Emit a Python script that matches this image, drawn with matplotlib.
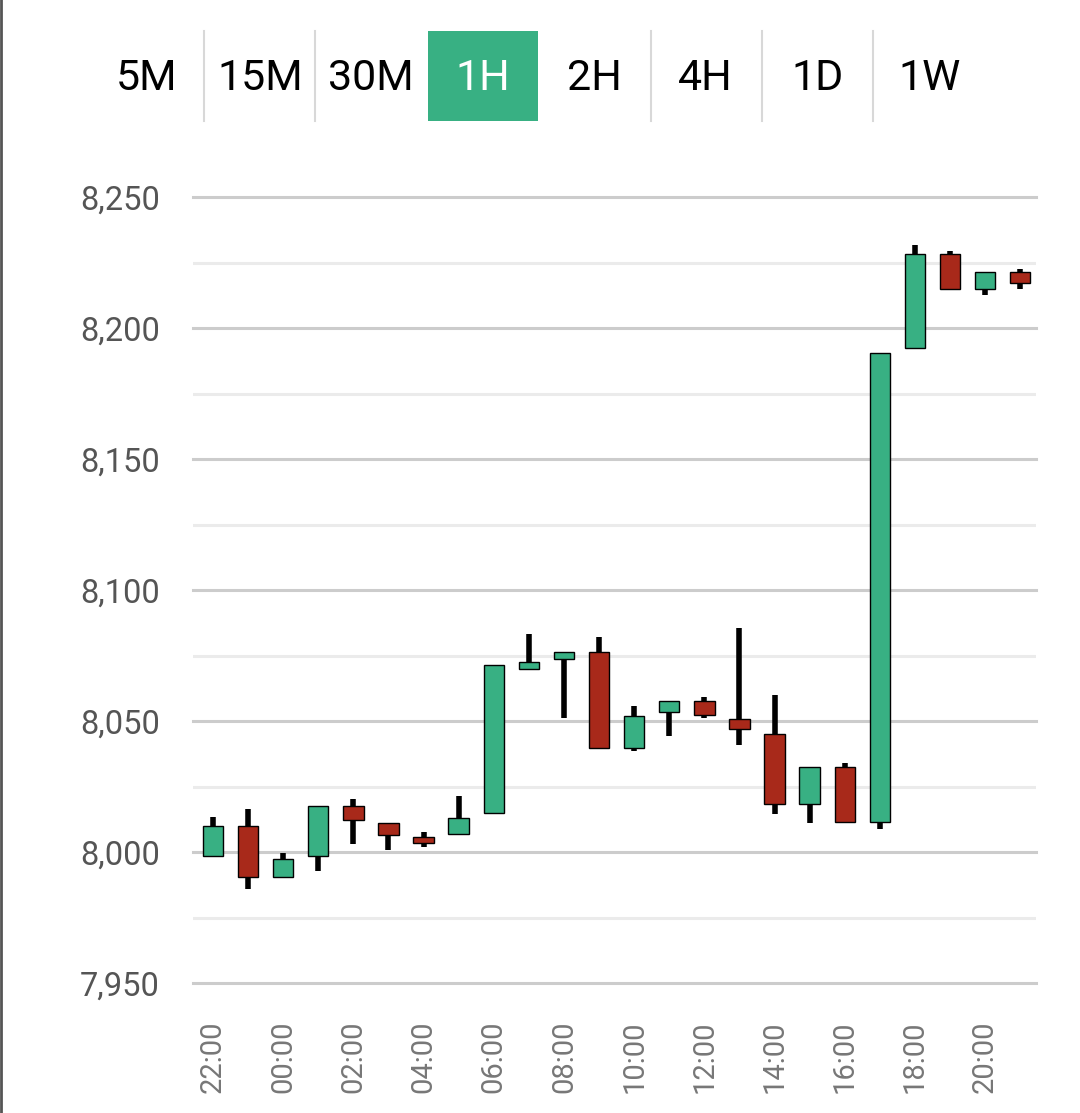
import numpy as np
import matplotlib.pyplot as plt
from matplotlib.patches import Rectangle
from matplotlib.lines import Line2D

plt.rcParams['font.family'] = ['Roboto', 'DejaVu Sans']

# hourly candles, 22:00 .. 21:00
horas = ["22:00", "23:00", "00:00", "01:00", "02:00", "03:00", "04:00", "05:00",
         "06:00", "07:00", "08:00", "09:00", "10:00", "11:00", "12:00", "13:00",
         "14:00", "15:00", "16:00", "17:00", "18:00", "19:00", "20:00", "21:00"]
apertura = [7998.5, 8009.9, 7990.6, 7998.6, 8017.7, 8011.0, 8005.8, 8006.8,
            8014.8, 8070.0, 8073.5, 8076.2, 8039.8, 8053.6, 8057.7, 8050.8,
            8045.0, 8018.2, 8032.6, 8011.3, 8192.3, 8228.2, 8215.0, 8221.4]
cierre = [8009.9, 7990.6, 7997.2, 8017.7, 8012.2, 8006.5, 8003.6, 8013.1,
          8071.4, 8072.6, 8076.2, 8039.8, 8052.0, 8057.7, 8052.3, 8046.8,
          8018.2, 8032.6, 8011.3, 8190.5, 8228.2, 8215.0, 8221.4, 8217.3]
maximo = [8013.4, 8016.5, 7999.5, 8017.7, 8020.1, 8011.0, 8007.5, 8021.4,
          8071.4, 8083.1, 8076.2, 8082.0, 8055.7, 8057.7, 8059.0, 8085.4,
          8060.0, 8032.6, 8033.9, 8190.5, 8231.8, 8229.5, 8221.4, 8222.6]
minimo = [7998.5, 7986.0, 7990.6, 7992.9, 8003.1, 8000.8, 8002.0, 8006.8,
          8014.8, 8070.0, 8051.0, 8039.8, 8038.5, 8044.3, 8051.0, 8040.8,
          8014.5, 8011.2, 8011.3, 8008.8, 8192.3, 8215.0, 8212.6, 8215.0]

periodos = ["5M", "15M", "30M", "1H", "2H", "4H", "1D", "1W"]
activo = "1H"

VERDE = '#38b083'
ROJO = '#a8291a'

W, H = 1080, 1113
fig = plt.figure(figsize=(W / 100, H / 100), dpi=100)

# --- barra de periodos ---
centros = [147, 260, 371, 483, 594, 705, 818, 930]
separadores = [204, 315, 651, 762, 873]
for xs in separadores:
    fig.add_artist(Line2D([xs / W, xs / W], [1 - 31 / H, 1 - 121 / H],
                          color='#d8d8d8', lw=1.5))
for p, xc in zip(periodos, centros):
    color = 'black'
    if p == activo:
        fig.add_artist(Rectangle((428 / W, 1 - 121 / H), 110 / W, 90 / H,
                                 facecolor=VERDE, edgecolor='none'))
        color = 'white'
    fig.text(xc / W, 1 - 79 / H, p, ha='center', va='center', fontsize=31, color=color)

# borde izquierdo
fig.add_artist(Line2D([0.001, 0.001], [0, 1], color='#555555', lw=2))

# --- grafico de velas ---
ax = fig.add_axes([193 / W, (H - 983) / H, (1036 - 193) / W, (983 - 197) / H])
x = np.arange(len(horas))
ab = np.array(apertura)
ci = np.array(cierre)
colores = [VERDE if c >= o else ROJO for o, c in zip(ab, ci)]

ax.vlines(x, minimo, maximo, color='black', lw=4, zorder=2, clip_on=False)
ax.bar(x, ci - ab, bottom=ab, width=0.58, color=colores, edgecolor='black',
       linewidth=1, zorder=3, clip_on=False)

ax.set_xlim(-0.57, 23.45)
ax.set_ylim(7950, 8250)
ax.set_yticks(np.arange(7950, 8251, 50))
ax.set_yticks(np.arange(7975, 8250, 50), minor=True)
ax.set_yticklabels([f'{v:,}' for v in range(7950, 8251, 50)])
ax.grid(True, axis='y', which='major', color='#cccccc', lw=2.2, zorder=0)
ax.grid(True, axis='y', which='minor', color='#ebebeb', lw=2.2, zorder=0)
for gl in ax.get_ygridlines():
    gl.set_clip_on(False)
ax.set_xticks(x[::2])
ax.set_xticklabels(horas[::2], rotation=90, va='top')
ax.tick_params(axis='y', which='both', length=0, pad=24, labelsize=23.5, labelcolor='#555555')
ax.tick_params(axis='x', length=0, pad=27, labelsize=21, labelcolor='#777777')
for s in ax.spines.values():
    s.set_visible(False)

plt.savefig('out.png', dpi=100)
